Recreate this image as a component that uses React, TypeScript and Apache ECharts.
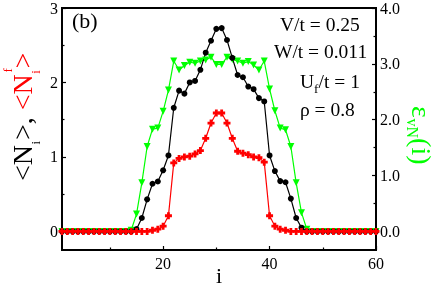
import React, { useEffect, useRef } from "react";
import * as echarts from "echarts";

// site index i = 1..60
const sites: number[] = Array.from({ length: 60 }, (_, k) => k + 1);

// <N_i> (black, left axis)
const nTotal: number[] = [
  0, 0, 0, 0, 0, 0, 0, 0, 0, 0, 0, 0, 0, 0,
  0.03, 0.18, 0.43, 0.64, 0.67, 0.82, 1.02, 1.66, 1.89, 1.85, 2.0, 2.02, 2.17, 2.4, 2.56, 2.72,
  2.73, 2.57, 2.33, 2.1, 2.07, 1.945, 1.91, 1.79, 1.745, 1.02, 0.81, 0.675, 0.66, 0.44, 0.18, 0.05,
  0, 0, 0, 0, 0, 0, 0, 0, 0, 0, 0, 0, 0, 0,
];

// <N_i^f> (red, left axis)
const nF: number[] = [
  0, 0, 0, 0, 0, 0, 0, 0, 0, 0, 0, 0, 0, 0, 0, 0, 0,
  0.015, 0.03, 0.07, 0.21, 0.92, 0.98, 1.0, 1.01, 1.04, 1.085, 1.25, 1.455, 1.59,
  1.59, 1.455, 1.25, 1.076, 1.05, 1.03, 1.0, 0.99, 0.93, 0.21, 0.07, 0.03, 0.015,
  0, 0, 0, 0, 0, 0, 0, 0, 0, 0, 0, 0, 0, 0, 0, 0, 0,
];

// entanglement entropy (green, right axis)
const eps: number[] = [
  0, 0, 0, 0, 0, 0, 0, 0, 0, 0, 0, 0, 0,
  0.02, 0.31, 0.87, 1.52, 1.83, 1.85, 2.15, 2.53, 3.05, 2.89, 2.97, 3.03, 3.01, 3.05, 3.07, 3.12, 2.99,
  2.99, 3.12, 3.08, 3.05, 3.01, 3.04, 2.98, 2.89, 3.05, 2.55, 2.16, 1.85, 1.82, 1.52, 0.87, 0.335, 0.04,
  0, 0, 0, 0, 0, 0, 0, 0, 0, 0, 0, 0, 0,
];

const xLabels: number[] = [20, 40, 60];
const xMinor: number[] = [10, 30, 50];
const yLeftLabels: number[] = [0, 1, 2, 3];
const yLeftMinor: number[] = [0.5, 1.5, 2.5];
const yRightLabels: number[] = [0, 1, 2, 3, 4];
const yRightMinor: number[] = [0.5, 1.5, 2.5, 3.5];

const SERIF = "Liberation Serif";
const GREEN = "#00ff00";
const RED = "#ff0000";
const PLUS = "path://M3,0h4v3h3v4h-3v3h-4v-3h-3v-4h3z";

export default function App() {
  const ref = useRef<HTMLDivElement>(null);
  useEffect(() => {
    if (!ref.current) return;
    const chart = echarts.init(ref.current, undefined, { renderer: "svg" });
    const tickStyle = { color: "#000", width: 1.2 };
    const lab = { fontFamily: SERIF, fontSize: 16, color: "#000" };
    const noLine = { show: false, onZero: false };
    const mid = (baseline: number, fs: number) => baseline - 0.35 * fs;
    const t = (text: string, x: number, y: number, fs: number, fill: string) => ({
      type: "text",
      x,
      y,
      style: { text, fontSize: fs, fontFamily: SERIF, fill, textAlign: "left", textVerticalAlign: "middle", verticalAlign: "middle" },
    });
    const mk = (vals: number[]) => sites.map((x, k) => [x, vals[k]]);
    chart.setOption({
      animation: false,
      grid: { left: 62, right: 61, top: 6, bottom: 37, show: true, borderColor: "#000", borderWidth: 2, backgroundColor: "transparent" },
      xAxis: [
        {
          type: "value", min: 1, max: 60, position: "bottom",
          axisLine: noLine, splitLine: { show: false },
          axisTick: { inside: true, length: 4, customValues: xLabels, lineStyle: tickStyle },
          axisLabel: { ...lab, margin: 5, customValues: xLabels },
        },
        {
          type: "value", min: 1, max: 60, position: "bottom",
          axisLine: noLine, splitLine: { show: false },
          axisTick: { inside: true, length: 2.5, customValues: xMinor, lineStyle: tickStyle },
          axisLabel: { show: false },
        },
      ],
      yAxis: [
        {
          type: "value", min: -0.25, max: 3, position: "left",
          axisLine: noLine, splitLine: { show: false },
          axisTick: { inside: true, length: 4, customValues: yLeftLabels, lineStyle: tickStyle },
          axisLabel: { ...lab, margin: 4, customValues: yLeftLabels },
        },
        {
          type: "value", min: -1 / 3, max: 4, position: "right",
          axisLine: noLine, splitLine: { show: false },
          axisTick: { inside: true, length: 4, customValues: yRightLabels, lineStyle: tickStyle },
          axisLabel: { ...lab, margin: 4, customValues: yRightLabels, formatter: (v: number) => v.toFixed(1) },
        },
        {
          type: "value", min: -0.25, max: 3, position: "left",
          axisLine: noLine, splitLine: { show: false },
          axisTick: { inside: true, length: 2.5, customValues: yLeftMinor, lineStyle: tickStyle },
          axisLabel: { show: false },
        },
        {
          type: "value", min: -1 / 3, max: 4, position: "right",
          axisLine: noLine, splitLine: { show: false },
          axisTick: { inside: true, length: 2.5, customValues: yRightMinor, lineStyle: tickStyle },
          axisLabel: { show: false },
        },
      ],
      series: [
        {
          type: "line", yAxisIndex: 1, data: mk(eps),
          symbol: "triangle", symbolRotate: 180, symbolSize: 7,
          lineStyle: { color: GREEN, width: 1.2 }, itemStyle: { color: GREEN },
        },
        {
          type: "line", yAxisIndex: 0, data: mk(nTotal),
          symbol: "circle", symbolSize: 6,
          lineStyle: { color: "#000", width: 1.2 }, itemStyle: { color: "#000" },
        },
        {
          type: "line", yAxisIndex: 0, data: mk(nF),
          symbol: PLUS, symbolSize: 7,
          lineStyle: { color: RED, width: 1.2 }, itemStyle: { color: RED },
        },
      ],
      graphic: [
        t("(b)", 72, mid(28, 22), 22, "#000"),
        t("V/t = 0.25", 280, mid(31.5, 19.5), 19.5, "#000"),
        t("W/t = 0.011", 274, mid(58, 19.5), 19.5, "#000"),
        t("U", 300, mid(88, 19.5), 19.5, "#000"),
        t("f", 314.1, mid(93, 13), 13, "#000"),
        t("/t = 1", 318.6, mid(88, 19.5), 19.5, "#000"),
        t("\u03c1 = 0.8", 300, mid(116, 19.5), 19.5, "#000"),
        t("i", 216, mid(283.3, 22), 22, "#000"),
        {
          type: "group",
          x: 32,
          y: 181,
          rotation: Math.PI / 2,
          children: [
            t("<", 0, mid(0, 28), 28, "#000"),
            t("N", 15.8, mid(0, 28), 28, "#000"),
            t("i", 36.5, mid(8, 13), 13, "#000"),
            t(">", 41, mid(0, 28), 28, "#000"),
            t(",", 56.8, mid(0, 28), 28, "#000"),
            t("<", 70.8, mid(0, 28), 28, RED),
            t("N", 86.6, mid(0, 28), 28, RED),
            t("i", 107.3, mid(8, 13), 13, RED),
            t("f", 108.5, mid(-20, 13), 13, RED),
            t(">", 112.6, mid(0, 28), 28, RED),
          ],
        },
        {
          type: "group",
          x: 412,
          y: 106,
          rotation: -Math.PI / 2,
          children: [
            t("\u03b5", 0, mid(0, 28), 28, GREEN),
            t("vN", 12.5, mid(5, 16), 16, GREEN),
            t("(i)", 32.1, mid(0, 28), 28, GREEN),
          ],
        },
      ],
    });
    return () => chart.dispose();
  }, []);
  return <div ref={ref} style={{ position: "fixed", left: 0, top: 0, width: 437, height: 287 }} />;
}
